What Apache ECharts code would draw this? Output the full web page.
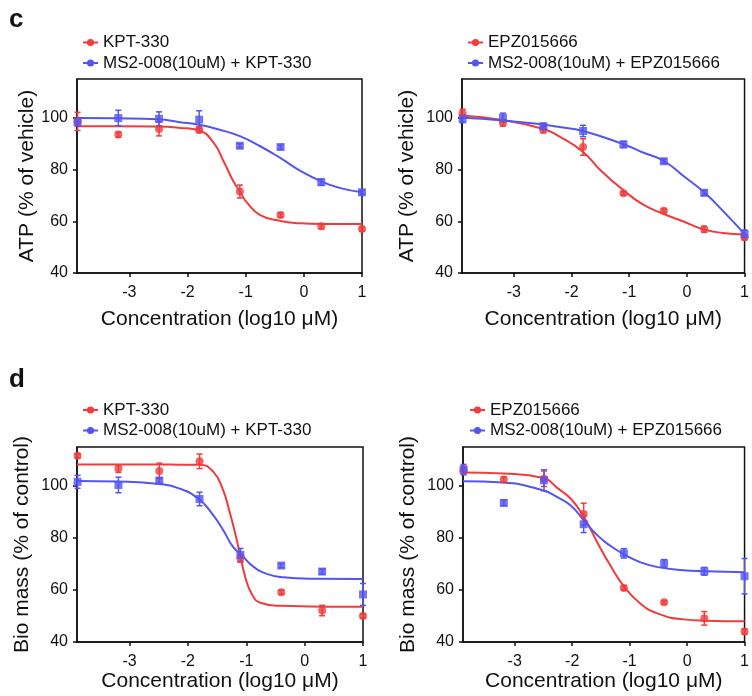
<!DOCTYPE html>
<html>
<head>
<meta charset="utf-8">
<script src="https://cdn.jsdelivr.net/npm/echarts@6/dist/echarts.min.js"></script>
<style>
html, body { margin: 0; padding: 0; background: #fff; }
#chart { width: 752px; height: 696px; }
</style>
</head>
<body>
<div id="chart"></div>
<script>
// log10 concentration (uM), 5-fold dilution from 10 uM
var logConc = [-3.89, -3.19, -2.49, -1.80, -1.10, -0.40, 0.30, 1.00];
var xTicks = [-3, -2, -1, 0, 1];
var yTicks = [40, 60, 80, 100];

var kptNames = ['KPT-330', 'MS2-008(10uM) + KPT-330'];
var epzNames = ['EPZ015666', 'MS2-008(10uM) + EPZ015666'];

// c, left: ATP with KPT-330
var atpKpt = [98.6, 93.5, 95.7, 95.4, 71.5, 62.4, 58.1, 57.0];
var atpKptErr = [3.5, 1.0, 2.7, 1.2, 2.5, 0.8, 1.0, 0.8];
var atpKptCombo = [98.3, 99.9, 99.6, 99.3, 89.2, 88.7, 75.1, 71.2];
var atpKptComboErr = [1.5, 3.0, 2.7, 3.4, 0.8, 0.8, 1.2, 0.8];
var atpKptFitX = [-3.9, -3.2, -2.5, -2.13, -1.8, -1.55, -1.38, -1.21, -1.1, -0.98, -0.75, -0.4, -0.06, 0.3, 1.0];
var atpKptFitY = [96.7, 96.7, 96.6, 96.1, 95.1, 90.3, 83.2, 75.4, 71.5, 67.3, 62.4, 60.1, 59.2, 58.9, 58.9];
var atpKptComboFitX = [-3.9, -3.2, -2.5, -2.13, -1.8, -1.45, -1.1, -0.75, -0.4, -0.06, 0.3, 0.63, 1.0];
var atpKptComboFitY = [99.9, 99.8, 99.4, 98.3, 97.3, 95.4, 92.9, 89.0, 84.4, 79.5, 75.4, 72.8, 71.2];

// c, right: ATP with EPZ015666
var atpEpz = [101.8, 98.0, 95.4, 88.7, 70.8, 64.1, 56.9, 53.8];
var atpEpzErr = [1.5, 1.2, 1.2, 3.2, 0.6, 0.6, 1.2, 1.0];
var atpEpzCombo = [99.6, 100.0, 96.7, 94.9, 89.7, 83.2, 71.0, 55.1];
var atpEpzComboErr = [1.5, 1.8, 1.2, 2.2, 1.2, 0.8, 1.0, 1.5];
var atpEpzFitX = [-3.9, -3.2, -2.5, -2.23, -1.8, -1.49, -1.09, -0.75, -0.4, -0.06, 0.3, 0.62, 1.0];
var atpEpzFitY = [100.9, 99.2, 95.8, 93.0, 86.8, 79.5, 71.8, 66.3, 62.8, 59.9, 56.8, 55.5, 54.9];
var atpEpzComboFitX = [-3.9, -3.2, -2.5, -2.23, -1.8, -1.09, -0.75, -0.4, -0.06, 0.3, 0.62, 1.0];
var atpEpzComboFitY = [100.0, 99.0, 97.4, 96.5, 94.9, 89.7, 86.5, 83.3, 77.5, 71.2, 64.1, 55.1];

// d, left: bio mass with KPT-330
var bmKpt = [111.6, 106.7, 105.8, 109.5, 72.2, 59.1, 52.1, 50.0];
var bmKptErr = [0.8, 1.5, 3.0, 2.8, 1.5, 0.8, 2.0, 0.8];
var bmKptCombo = [101.6, 100.4, 102.1, 95.0, 73.5, 69.4, 67.1, 58.3];
var bmKptComboErr = [2.5, 3.0, 1.0, 2.6, 2.5, 0.8, 1.0, 4.2];
var bmKptFitX = [-3.9, -3.2, -2.5, -2.14, -1.8, -1.57, -1.4, -1.28, -1.19, -1.11, -1.02, -0.91, -0.76, -0.42, 0.3, 1.0];
var bmKptFitY = [108.3, 108.3, 108.3, 108.2, 108.2, 105.6, 98.6, 89.6, 81.8, 74.1, 65.2, 58.7, 55.1, 53.9, 53.6, 53.6];
var bmKptComboFitX = [-3.9, -3.2, -2.5, -2.14, -1.8, -1.57, -1.4, -1.23, -1.08, -0.88, -0.65, -0.37, 0.15, 1.0];
var bmKptComboFitY = [101.9, 101.7, 100.8, 99.0, 94.7, 88.9, 83.2, 76.7, 73.5, 69.0, 66.2, 64.9, 64.3, 64.2];

// d, right: bio mass with EPZ015666
var bmEpz = [106.1, 102.5, 102.8, 89.2, 60.8, 55.3, 49.1, 44.0];
var bmEpzErr = [1.5, 1.0, 3.0, 4.2, 0.8, 0.6, 2.6, 1.0];
var bmEpzCombo = [106.3, 93.5, 102.2, 85.3, 74.1, 70.2, 67.2, 65.3];
var bmEpzComboErr = [2.0, 1.0, 4.0, 3.2, 1.8, 1.5, 1.5, 6.8];
var bmEpzFitX = [-3.9, -3.2, -2.5, -2.25, -2.02, -1.79, -1.56, -1.33, -1.1, -0.82, -0.53, -0.07, 0.33, 1.0];
var bmEpzFitY = [105.2, 104.8, 103.1, 99.1, 95.0, 87.9, 78.2, 69.2, 61.4, 54.9, 51.1, 48.7, 48.2, 48.0];
var bmEpzComboFitX = [-3.9, -3.2, -2.5, -2.25, -2.02, -1.79, -1.56, -1.33, -1.1, -0.82, -0.53, -0.07, 0.33, 1.0];
var bmEpzComboFitY = [101.8, 101.3, 98.3, 95.6, 92.4, 86.6, 81.0, 76.9, 73.7, 70.7, 68.9, 67.6, 67.2, 66.8];

var RED = '#f03c3c';
var BLUE = '#5454f2';
var INK = '#111';
var FONT = "'Liberation Sans', Arial, sans-serif";

var chart = echarts.init(document.getElementById('chart'));

function zip(xs, ys) {
    return xs.map(function (x, i) { return [x, ys[i]]; });
}

function zipErr(xs, ys, es) {
    return xs.map(function (x, i) { return [x, ys[i], es[i]]; });
}

function renderErr(params, api) {
    var x = api.value(0), y = api.value(1), e = api.value(2);
    var lo = api.coord([x, y - e]);
    var hi = api.coord([x, y + e]);
    var w = 3;
    var st = { stroke: api.visual('color'), lineWidth: 1.5 };
    return {
        type: 'group',
        children: [
            { type: 'line', shape: { x1: lo[0], y1: lo[1], x2: hi[0], y2: hi[1] }, style: st },
            { type: 'line', shape: { x1: lo[0] - w, y1: lo[1], x2: lo[0] + w, y2: lo[1] }, style: st },
            { type: 'line', shape: { x1: hi[0] - w, y1: hi[1], x2: hi[0] + w, y2: hi[1] }, style: st }
        ]
    };
}

function panelSeries(idx, names, single, singleErr, combo, comboErr, fitX, fitY, comboFitX, comboFitY) {
    var common = { xAxisIndex: idx, yAxisIndex: idx };
    function fit(name, color, xs, ys) {
        return Object.assign({
            name: name, type: 'line', data: zip(xs, ys), smooth: 0.5,
            showSymbol: false, symbol: 'circle', color: color,
            lineStyle: { width: 2, color: color }, z: 3
        }, common);
    }
    function pts(name, color, sym, ys) {
        return Object.assign({
            name: name, type: 'scatter', data: zip(logConc, ys), symbol: sym, symbolSize: 8,
            itemStyle: { color: color }, clip: false, z: 4
        }, common);
    }
    function errs(name, color, ys, es) {
        return Object.assign({
            name: name, type: 'custom', data: zipErr(logConc, ys, es), renderItem: renderErr,
            itemStyle: { color: color }, encode: { x: 0, y: 1 }, clip: false, z: 4
        }, common);
    }
    return [
        fit(names[0], RED, fitX, fitY),
        fit(names[1], BLUE, comboFitX, comboFitY),
        errs(names[0], RED, single, singleErr),
        errs(names[1], BLUE, combo, comboErr),
        pts(names[0], RED, 'circle', single),
        pts(names[1], BLUE, 'rect', combo)
    ];
}

var grids = [
    { left: 77, top: 79, width: 285, height: 194 },
    { left: 462, top: 79, width: 287, height: 194 },
    { left: 77, top: 447, width: 286, height: 195 },
    { left: 463, top: 447, width: 286, height: 195 }
];
var yNames = ['ATP (% of vehicle)', 'ATP (% of vehicle)', 'Bio mass (% of control)', 'Bio mass (% of control)'];
var yGaps = [31, 44, 44, 44];
var xGaps = [36, 36, 29, 29];

var xAxes = grids.map(function (g, i) {
    return {
        gridIndex: i, type: 'value', min: -3.9, max: 1,
        name: 'Concentration (log10 \u03bcM)', nameLocation: 'middle', nameGap: xGaps[i],
        nameTextStyle: { fontSize: 21, color: INK, fontFamily: FONT },
        axisLine: { show: true, onZero: false, lineStyle: { color: INK, width: 1.5 } },
        axisTick: { show: true, length: 4, customValues: xTicks, lineStyle: { color: INK, width: 1.5 } },
        axisLabel: { customValues: xTicks, fontSize: 16, color: INK, fontFamily: FONT, margin: 12 },
        splitLine: { show: false }
    };
});

var yAxes = grids.map(function (g, i) {
    return {
        gridIndex: i, type: 'value', min: 40, max: 115,
        name: yNames[i], nameLocation: 'middle', nameRotate: 90, nameGap: yGaps[i],
        nameTextStyle: { fontSize: 21, color: INK, fontFamily: FONT },
        axisLine: { show: true, onZero: false, lineStyle: { color: INK, width: 1.5 } },
        axisTick: { show: true, length: 4, customValues: yTicks, lineStyle: { color: INK, width: 1.5 } },
        axisLabel: { customValues: yTicks, fontSize: 16, color: INK, fontFamily: FONT, margin: 9 },
        splitLine: { show: false }
    };
});

var legendPos = [
    { left: 82, top: 33.5, names: kptNames },
    { left: 467, top: 33.5, names: epzNames },
    { left: 82, top: 401, names: kptNames },
    { left: 469, top: 401, names: epzNames }
];

var option = {
    animation: false,
    backgroundColor: '#fff',
    grid: grids.map(function (g) {
        return Object.assign({ show: true, borderColor: INK, borderWidth: 1.5, backgroundColor: 'transparent' }, g);
    }),
    xAxis: xAxes,
    yAxis: yAxes,
    legend: legendPos.map(function (p) {
        return {
            orient: 'vertical', left: p.left, top: p.top, data: p.names, padding: 0,
            itemWidth: 15, itemHeight: 9, itemGap: 2.5, selectedMode: false,
            textStyle: { fontSize: 17, lineHeight: 18, color: INK, fontFamily: FONT }
        };
    }),
    graphic: [
        { type: 'text', left: 9, top: 7, style: { text: 'c', font: 'bold 26px ' + FONT, fill: INK } },
        { type: 'text', left: 9, top: 367, style: { text: 'd', font: 'bold 26px ' + FONT, fill: INK } }
    ],
    series: [].concat(
        panelSeries(0, kptNames, atpKpt, atpKptErr, atpKptCombo, atpKptComboErr, atpKptFitX, atpKptFitY, atpKptComboFitX, atpKptComboFitY),
        panelSeries(1, epzNames, atpEpz, atpEpzErr, atpEpzCombo, atpEpzComboErr, atpEpzFitX, atpEpzFitY, atpEpzComboFitX, atpEpzComboFitY),
        panelSeries(2, kptNames, bmKpt, bmKptErr, bmKptCombo, bmKptComboErr, bmKptFitX, bmKptFitY, bmKptComboFitX, bmKptComboFitY),
        panelSeries(3, epzNames, bmEpz, bmEpzErr, bmEpzCombo, bmEpzComboErr, bmEpzFitX, bmEpzFitY, bmEpzComboFitX, bmEpzComboFitY)
    )
};

chart.setOption(option);
</script>
</body>
</html>
